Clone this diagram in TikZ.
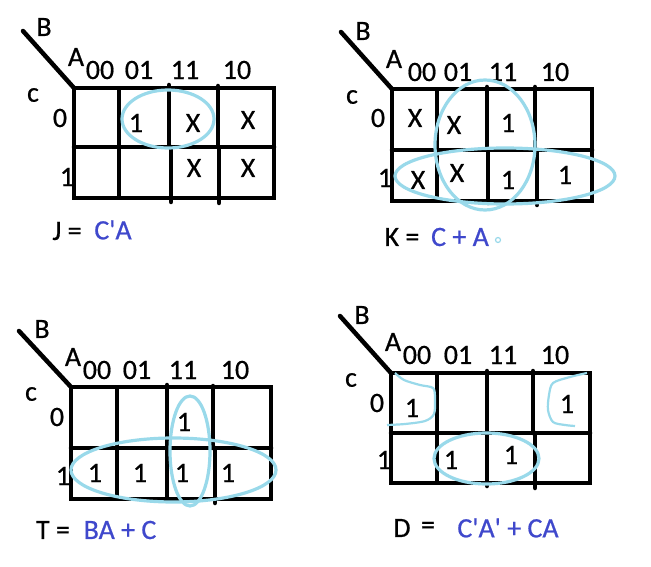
\documentclass[tikz,border=0pt]{standalone}
\usepackage{fontspec}
\newfontfamily\carl{Carlito}[FakeBold=0.6]
\definecolor{turq}{RGB}{153,217,234}
\definecolor{indigo}{RGB}{63,72,204}
\begin{document}
\begin{tikzpicture}[x=1pt,y=-1pt,
  grid/.style={line width=4.5pt,line cap=round},
  ring/.style={draw=turq,line width=3.2pt},
  lbl/.style={inner sep=0pt,font=\carl\fontsize{28}{32}\selectfont},
  res/.style={inner sep=0pt,font=\carl\fontsize{28}{32}\selectfont,text=indigo}]
\useasboundingbox (0,0) rectangle (651,567);
\fill[white] (0,0) rectangle (651,567);

% ---------------- Map 1 (J) ----------------
\draw[grid] (23,31) -- (74,88);
\draw[grid,line cap=butt] (74,88) rectangle (274,198);
\draw[grid] (74,147) -- (274,147);
\draw[grid,line cap=butt] (119,88) -- (119,198);
\draw[grid] (169,85) -- (169,147) (171,147) -- (171,202);
\draw[grid] (218,86) -- (218,147) (219,147) -- (219,203);
\node[lbl] (b1) at (44,27) {B};
\node[lbl] (a1) at (76,57) {A};
\node[lbl] (c1) at (33,95) {c};
\node[lbl] (r10) at (60,118) {0};
\node[lbl] (r11) at (67,177) {1};
\node[lbl] (h100) at (100,70) {00};
\node[lbl] (h101) at (139,70) {01};
\node[lbl] (h111) at (185,70) {11};
\node[lbl] (h110) at (237,70) {10};
\node[lbl] (m1a) at (136,123) {1};
\node[lbl] (m1b) at (193,123) {X};
\node[lbl] (m1c) at (248,120) {X};
\node[lbl] (m1d) at (194,168) {X};
\node[lbl] (m1e) at (248,168) {X};
\draw[ring] (168,119) ellipse [x radius=46,y radius=29];
\node[lbl] (j) at (67,231) {J =};
\node[res] (jr) at (113,230) {C'A};

% ---------------- Map 2 (K) ----------------
\draw[grid] (341,32) -- (392,89);
\draw[grid,line cap=butt] (392,89) rectangle (592,201);
\draw[grid] (392,150) -- (592,150);
\draw[grid,line cap=butt] (437,89) -- (437,201);
\draw[grid] (487,87) -- (487,150) (488,150) -- (488,203);
\draw[grid] (535,87) -- (535,150) (537,150) -- (537,205);
\node[lbl] (b2) at (363,31) {B};
\node[lbl] (a2) at (394,59) {A};
\node[lbl] (c2) at (352,97) {c};
\node[lbl] (r20) at (378,118) {0};
\node[lbl] (r21) at (385,178) {1};
\node[lbl] (h200) at (422,72) {00};
\node[lbl] (h201) at (458,72) {01};
\node[lbl] (h211) at (503,72) {11};
\node[lbl] (h210) at (555,72) {10};
\node[lbl] (m2a) at (415,118) {X};
\node[lbl] (m2b) at (454,125) {X};
\node[lbl] (m2c) at (508,123) {1};
\node[lbl] (m2d) at (418,180) {X};
\node[lbl] (m2e) at (457,173) {X};
\node[lbl] (m2f) at (508,180) {1};
\node[lbl] (m2g) at (565,175) {1};
\draw[ring] (485,145) ellipse [x radius=50,y radius=65];
\draw[ring] (505,176) ellipse [x radius=110,y radius=28];
\node[lbl] (k) at (402,237) {K =};
\node[res] (kr) at (460,237) {C + A};
\node[draw=turq,line width=1.2pt,circle,minimum size=5pt,inner sep=0pt] (dot) at (498,240) {};

% ---------------- Map 3 (T) ----------------
\draw[grid] (19,331) -- (71,387);
\draw[grid,line cap=butt] (71,387) rectangle (271,499);
\draw[grid] (71,448) -- (271,448);
\draw[grid,line cap=butt] (117,387) -- (117,499);
\draw[grid] (167,385) -- (167,499);
\draw[grid] (213,386) -- (213,448) (215,448) -- (215,503);
\node[lbl] (b3) at (42,329) {B};
\node[lbl] (a3) at (73,357) {A};
\node[lbl] (c3) at (31,394) {c};
\node[lbl] (r30) at (57,417) {0};
\node[lbl] (r31) at (63,476) {1};
\node[lbl] (h300) at (97,370) {00};
\node[lbl] (h301) at (137,370) {01};
\node[lbl] (h311) at (183,370) {11};
\node[lbl] (h310) at (235,370) {10};
\node[lbl] (m3a) at (184,422) {1};
\node[lbl] (m3b) at (95,473) {1};
\node[lbl] (m3c) at (140,473) {1};
\node[lbl] (m3d) at (182,473) {1};
\node[lbl] (m3e) at (228,473) {1};
\draw[ring] (190,451) ellipse [x radius=20,y radius=55];
\draw[ring] (173.5,470) ellipse [x radius=102.5,y radius=32];
\node[lbl] (t) at (53,530) {T =};
\node[res] (tr) at (120,530) {BA + C};

% ---------------- Map 4 (D) ----------------
\draw[grid] (340,316) -- (391,373);
\draw[grid,line cap=butt] (391,373) rectangle (590,483);
\draw[grid] (391,433) -- (590,433);
\draw[grid,line cap=butt] (437,373) -- (437,483);
\draw[grid] (487,371) -- (487,486);
\draw[grid] (533,371) -- (533,433) (535,433) -- (535,488);
\node[lbl] (b4) at (362,315) {B};
\node[lbl] (a4) at (393,342) {A};
\node[lbl] (c4) at (351,380) {c};
\node[lbl] (r40) at (377,403) {0};
\node[lbl] (r41) at (384,460) {1};
\node[lbl] (h400) at (417,355) {00};
\node[lbl] (h401) at (458,355) {01};
\node[lbl] (h411) at (503,355) {11};
\node[lbl] (h410) at (555,355) {10};
\node[lbl] (m4a) at (412,408) {1};
\node[lbl] (m4b) at (567,404) {1};
\node[lbl] (m4c) at (451,460) {1};
\node[lbl] (m4d) at (511,455) {1};
\draw[ring,line width=2.2pt] plot[smooth] coordinates {(387,425) (405,424) (425,421) (434,414) (435,398) (433,388) (420,385) (404,380) (395,373)};
\draw[ring,line width=2.2pt] plot[smooth] coordinates {(587,373) (570,377) (553,383) (549,395) (548,410) (553,422) (565,425) (575,426)};
\draw[ring] (486.5,458.5) ellipse [x radius=52.5,y radius=25.5];
\node[lbl] (d) at (402,528) {D};
\node[lbl] (deq) at (428,528) {=};
\node[res] (dr) at (508,528) {C'A' + CA};
\end{tikzpicture}
\end{document}
